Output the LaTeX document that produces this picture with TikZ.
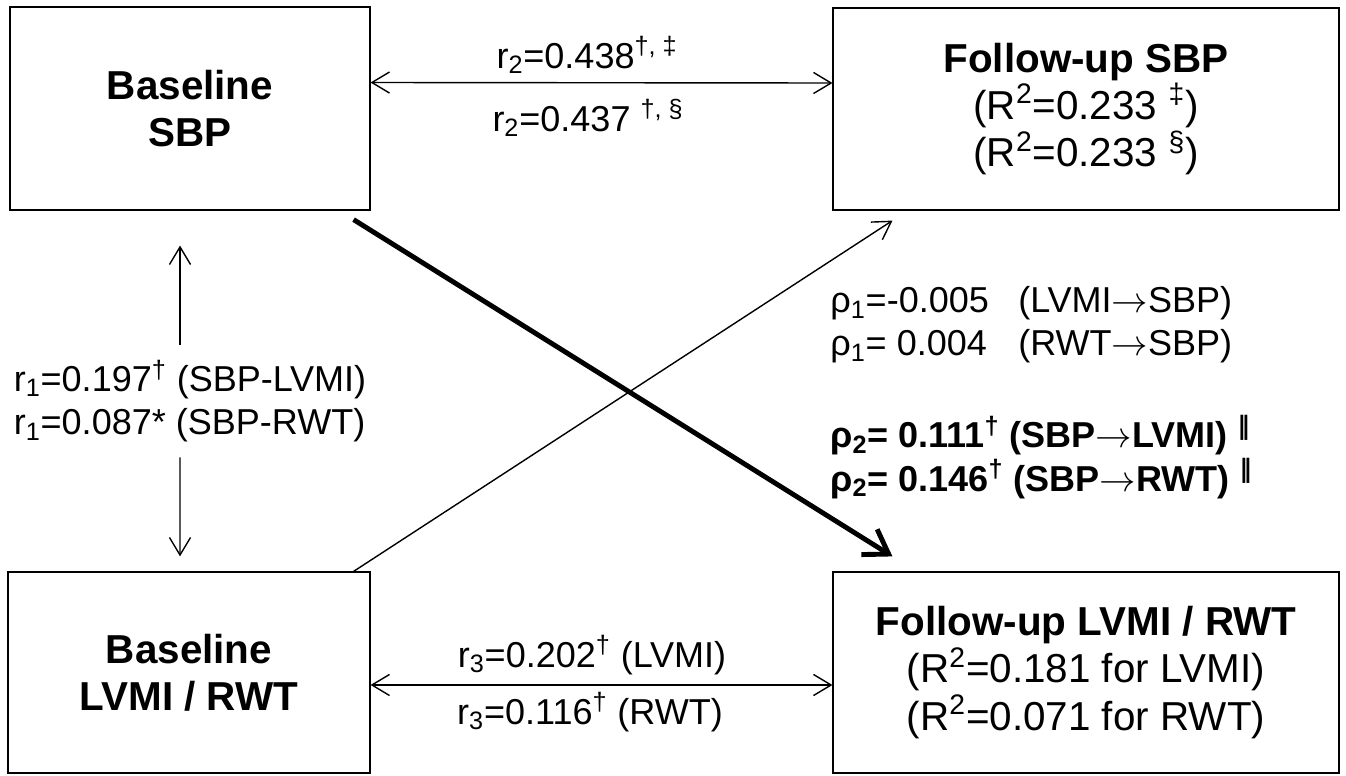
\documentclass[tikz,border=0pt]{standalone}
\usepackage{fontspec}
\setmainfont{Liberation Sans}
\newfontfamily\symfont{DejaVu Sans}
\usepackage{tikz}
\usetikzlibrary{arrows.meta, calc, positioning}
\definecolor{Black}{gray}{0}
\newcommand{\diagfont}{\fontsize{20.5}{24.5}\selectfont}
\newcommand{\boxfont}{\fontsize{23}{27}\selectfont}
\newcommand{\parl}{\textsuperscript{\symfont ‖}}
\newcommand{\toarr}{$\rightarrow$}
\tikzset{
  varbox/.style={draw=Black, line width=0.7pt, inner sep=0pt, align=center, font=\boxfont},
  boldbox/.style={varbox, font=\bfseries\boxfont},
  lbl/.style={inner sep=0pt, font=\diagfont, text=Black},
  thinarr/.style={draw=Black, line width=0.8pt, -{Straight Barb[length=10pt,width=12pt]}},
  botharr/.style={draw=Black, line width=0.8pt, {Straight Barb[length=10pt,width=12pt]}-{Straight Barb[length=10pt,width=12pt]}},
  thickarr/.style={draw=Black, line width=2.8pt, -{Straight Barb[length=13pt,width=17pt]}}
}

\begin{document}
\begin{tikzpicture}[x=0.02cm, y=0.02cm]
  \useasboundingbox (0,0) rectangle (1346,775);

  \node[boldbox, minimum width=7.2cm, minimum height=4.06cm] (bsbp) at (190,666.5) {Baseline\\SBP};
  \node[varbox, minimum width=10.12cm, minimum height=4.04cm] (fsbp) at (1086,666)
    {\textbf{Follow-up SBP}\\(R\textsuperscript{2}=0.233 \textsuperscript{‡})\\(R\textsuperscript{2}=0.233 \textsuperscript{§})};
  \node[boldbox, minimum width=7.24cm, minimum height=4.02cm] (blv) at (189,102.5) {Baseline\\LVMI / RWT};
  \node[varbox, minimum width=10.12cm, minimum height=4.02cm] (flv) at (1086,102.5)
    {\textbf{Follow-up LVMI / RWT}\\(R\textsuperscript{2}=0.181 for LVMI)\\(R\textsuperscript{2}=0.071 for RWT)};

  \node[lbl] (r2up) at (587,720) {r\textsubscript{2}=0.438\textsuperscript{†, ‡}};
  \node[lbl] (r2dn) at (588,657) {r\textsubscript{2}=0.437 \textsuperscript{†, §}};
  \node[lbl] (r3up) at (592,120) {r\textsubscript{3}=0.202\textsuperscript{†} (LVMI)};
  \node[lbl] (r3dn) at (590,63) {r\textsubscript{3}=0.116\textsuperscript{†} (RWT)};
  \node[lbl, align=left, minimum height=2.24cm] (r1) at (190,374)
    {r\textsubscript{1}=0.197\textsuperscript{†} (SBP-LVMI)\\r\textsubscript{1}=0.087* (SBP-RWT)};

  \node[lbl, align=left, anchor=west] (rho1) at (830,450)
    {\makebox[3.76cm][l]{ρ\textsubscript{1}=-0.005}(LVMI\toarr SBP)\\\makebox[3.76cm][l]{ρ\textsubscript{1}= 0.004}(RWT\toarr SBP)};
  \node[lbl, align=left, anchor=west, font=\bfseries\diagfont] (rho2) at (830,318)
    {ρ\textsubscript{2}= 0.111\textsuperscript{†} (SBP\toarr LVMI) \parl\\ρ\textsubscript{2}= 0.146\textsuperscript{†} (SBP\toarr RWT) \parl};

  \draw[botharr] ([yshift=0.52cm]bsbp.east) -- ([yshift=0.52cm]fsbp.west);
  \draw[botharr] ([yshift=-0.25cm]blv.east) -- ([yshift=-0.25cm]flv.west);
  \draw[thinarr] ([xshift=-0.2cm]r1.north) -- ([xshift=-0.2cm,yshift=-0.7cm]bsbp.south);
  \draw[thinarr] ([xshift=-0.2cm]r1.south) -- ([xshift=-0.18cm,yshift=0.3cm]blv.north);
  \draw[thinarr] ([shift={(-17,0)}]blv.north east) -- ([shift={(60,-10)}]fsbp.south west);
  \draw[thickarr] ([shift={(-17,-9)}]bsbp.south east) -- ([shift={(60,15)}]flv.north west);
\end{tikzpicture}
\end{document}
